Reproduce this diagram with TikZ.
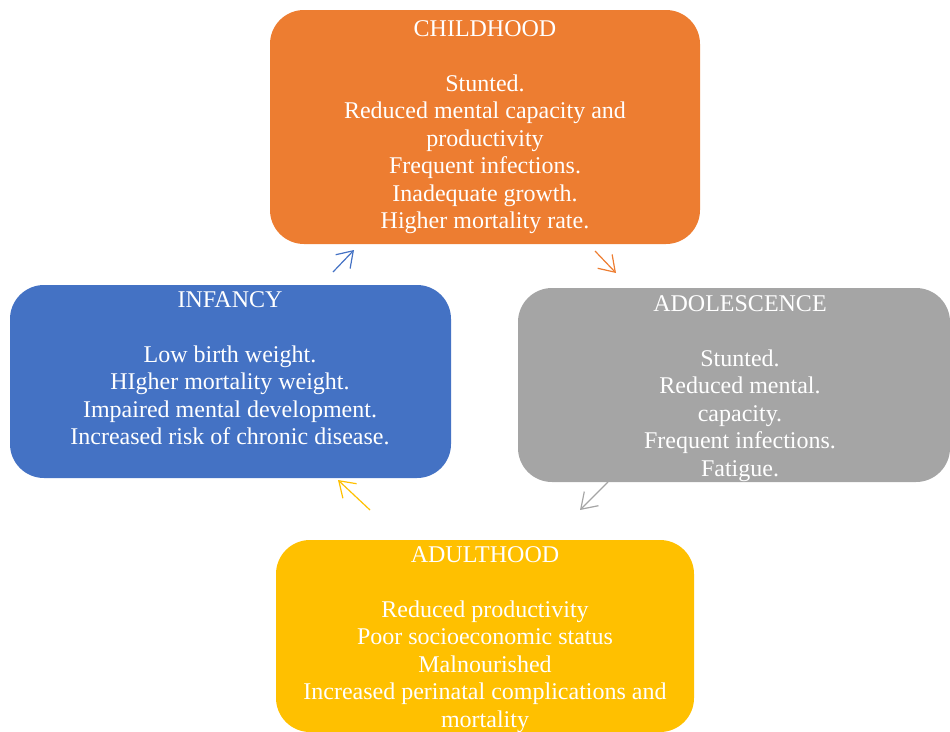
\documentclass[tikz,border=0pt]{standalone}
\usepackage{fontspec}
\setmainfont{Liberation Serif}
\usetikzlibrary{arrows.meta}
\definecolor{cOrange}{HTML}{ED7D31}
\definecolor{cBlue}{HTML}{4472C4}
\definecolor{cGray}{HTML}{A5A5A5}
\definecolor{cGold}{HTML}{FFC000}
\tikzset{
  stagebox/.style={draw=none, rounded corners=34pt, inner sep=0pt},
  stagetext/.style={anchor=north, inner sep=0pt, align=center, text=white,
    font=\fontsize{24pt}{27.5pt}\selectfont},
  cyclearrow/.style={line width=1.2pt, -{Straight Barb[length=15pt,width=20pt,line width=1.2pt]}}
}
\begin{document}
\begin{tikzpicture}[x={(1pt,0)}, y={(0,-1pt)}]
\useasboundingbox (0,0) rectangle (950,731);
\clip (0,0) rectangle (950,731);
% boxes
\node[stagebox, fill=cOrange, minimum width=430pt, minimum height=234pt] (child) at (485,127) {};
\node[stagebox, fill=cBlue, minimum width=441pt, minimum height=193pt] (inf) at (230.5,381.5) {};
\node[stagebox, fill=cGray, minimum width=432pt, minimum height=194pt] (adol) at (734,385) {};
\node[stagebox, fill=cGold, minimum width=418pt, minimum height=192pt] (adult) at (485,636) {};
% texts
\node[stagetext] (childtxt) at (485,20) {CHILDHOOD\\[27.5pt]Stunted.\\Reduced mental capacity and\\productivity\\Frequent infections.\\Inadequate growth.\\Higher mortality rate.};
\node[stagetext] (inftxt) at (230,291) {INFANCY\\[27.5pt]Low birth weight.\\HIgher mortality weight.\\Impaired mental development.\\Increased risk of chronic disease.};
\node[stagetext] (adoltxt) at (740,295) {ADOLESCENCE\\[27.5pt]Stunted.\\Reduced mental.\\capacity.\\Frequent infections.\\Fatigue.};
\node[stagetext] (adulttxt) at (485,546) {ADULTHOOD\\[27.5pt]Reduced productivity\\Poor socioeconomic status\\Malnourished\\Increased perinatal complications and\\mortality};
% arrows
\coordinate (a1s) at (333,272); \coordinate (a1e) at (354,250);
\coordinate (a2s) at (595,251); \coordinate (a2e) at (616,273);
\coordinate (a3s) at (608,482); \coordinate (a3e) at (580,510);
\coordinate (a4s) at (370,510); \coordinate (a4e) at (338,480);
\draw[cyclearrow, cBlue] (a1s) -- (a1e);
\draw[cyclearrow, cOrange] (a2s) -- (a2e);
\draw[cyclearrow, cGray] (a3s) -- (a3e);
\draw[cyclearrow, cGold] (a4s) -- (a4e);
\end{tikzpicture}
\end{document}
